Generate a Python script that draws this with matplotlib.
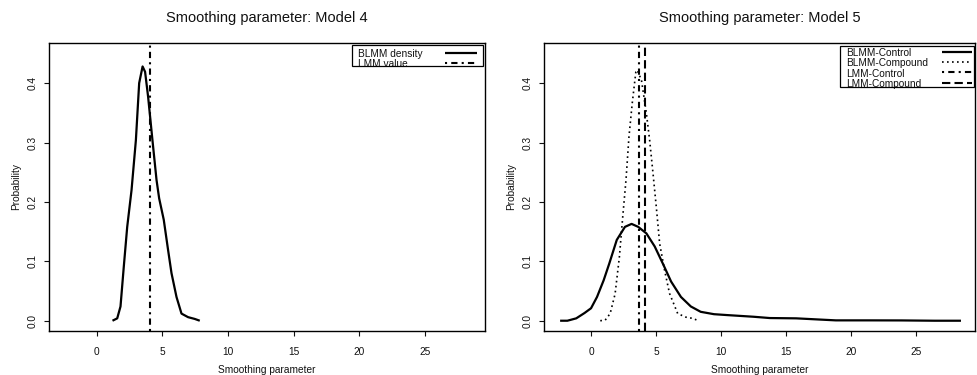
import matplotlib
matplotlib.use("Agg")
import matplotlib.pyplot as plt
from matplotlib.patches import Rectangle

plt.rcParams['font.family'] = ['Liberation Sans', 'DejaVu Sans']

# ---- data ----
m4_x = [1.21, 1.57, 1.82, 2.07, 2.33, 2.66, 2.99, 3.24, 3.50, 3.69, 3.92, 4.25,
        4.56, 4.76, 5.11, 5.44, 5.70, 6.08, 6.46, 6.96, 7.47, 7.85]
m4_y = [0.0, 0.004, 0.024, 0.091, 0.158, 0.220, 0.304, 0.400, 0.428, 0.419, 0.377, 0.304,
        0.237, 0.206, 0.170, 0.119, 0.080, 0.040, 0.012, 0.006, 0.003, 0.0]
m4_lmm = 4.10

ctrl_x = [-2.38, -1.82, -1.14, -0.50, 0.0, 0.46, 0.97, 1.40, 1.98, 2.61, 3.12, 3.63,
          4.26, 4.90, 5.53, 6.16, 6.92, 7.68, 8.44, 9.46, 10.47, 12.50, 13.76, 15.79,
          17.57, 18.84, 21.37, 23.90, 26.44, 28.47]
ctrl_y = [0.0, 0.0, 0.004, 0.013, 0.021, 0.040, 0.068, 0.096, 0.136, 0.158, 0.163, 0.158,
          0.147, 0.125, 0.096, 0.066, 0.040, 0.024, 0.015, 0.011, 0.0095, 0.0067, 0.0045, 0.004,
          0.002, 0.0006, 0.0006, 0.0005, 0.0, 0.0]
comp_x = [0.71, 1.09, 1.47, 1.85, 2.18, 2.44, 2.69, 2.92, 3.17, 3.45, 3.55, 3.88, 4.26,
          4.51, 4.77, 5.02, 5.28, 5.66, 6.04, 6.67, 7.30, 7.81, 8.27]
comp_y = [0.0, 0.001, 0.012, 0.045, 0.107, 0.175, 0.237, 0.310, 0.366, 0.419, 0.422, 0.405,
          0.349, 0.304, 0.248, 0.192, 0.130, 0.085, 0.046, 0.012, 0.006, 0.004, 0.0]
lmm_ctrl = 3.70
lmm_comp = 4.16

titles = ["Smoothing parameter: Model 4", "Smoothing parameter: Model 5"]
xticks = [0, 5, 10, 15, 20, 25]
yticks = [0.0, 0.1, 0.2, 0.3, 0.4]
ytick_labels = ["0.0", "0.1", "0.2", "0.3", "0.4"]
legend4 = ["BLMM density", "LMM value"]
legend5 = ["BLMM-Control", "BLMM-Compound", "LMM-Control", "LMM-Compound"]

SOLID = dict(color='black', lw=1.6, ls='-', solid_joinstyle='round', solid_capstyle='butt')
DOTTED = dict(color='black', lw=1.2, ls=(0, (1, 2)))
DOTDASH = dict(color='black', lw=1.5, ls=(0, (1, 2, 3, 2)))
DASHED = dict(color='black', lw=1.5, ls=(0, (4, 2)))

W, H = 977, 375
fig = plt.figure(figsize=(W / 100, H / 100), dpi=100)
ax1 = fig.add_axes([49 / W, (H - 331) / H, (485 - 49) / W, (331 - 43) / H])
ax2 = fig.add_axes([544 / W, (H - 331) / H, (975 - 544) / W, (331 - 43) / H])

ax1.plot(m4_x, m4_y, **SOLID)
ax1.axvline(m4_lmm, **DOTDASH)

ax2.plot(ctrl_x, ctrl_y, **SOLID)
ax2.plot(comp_x, comp_y, **DOTTED)
ax2.axvline(lmm_ctrl, **DOTDASH)
ax2.axvline(lmm_comp, **DASHED)


def draw_legend(ax, labels, styles, box, text_x, rows, line_x):
    x0, y0, x1, y1 = box
    ax.add_patch(Rectangle((x0, y0), x1 - x0, y1 - y0, transform=ax.transAxes,
                           facecolor='white', edgecolor='none', zorder=4))
    for lab, st, y in zip(labels, styles, rows):
        ax.text(text_x, y, lab, transform=ax.transAxes, fontsize=7.3, va='center',
                ha='left', color='#111111', zorder=5)
        ax.plot(line_x, [y + 0.004, y + 0.004], transform=ax.transAxes, zorder=5, **st)
    ax.add_patch(Rectangle((x0, y0), x1 - x0, y1 - y0, transform=ax.transAxes,
                           facecolor='none', edgecolor='black', lw=0.9, zorder=6))


draw_legend(ax1, legend4, [SOLID, DOTDASH], (0.694, 0.920, 0.996, 0.992), 0.709,
            [0.962, 0.928], [0.908, 0.981])
draw_legend(ax2, legend5, [SOLID, DOTTED, DOTDASH, DASHED], (0.687, 0.846, 0.998, 0.991),
            0.702, [0.964, 0.930, 0.894, 0.858], [0.923, 0.992])

for ax, t in zip([ax1, ax2], titles):
    ax.set_xlim(-3.62, 29.55)
    ax.set_ylim(-0.0173, 0.4675)
    ax.set_xticks(xticks)
    ax.set_yticks(yticks)
    ax.set_yticklabels(ytick_labels, rotation=90, va='center')
    ax.tick_params(direction='out', length=3.5, width=0.8, labelsize=7.3, colors='#111111')
    ax.tick_params(axis='x', pad=8)
    ax.tick_params(axis='y', pad=4.5)
    for s in ax.spines.values():
        s.set_linewidth(1.0)
        s.set_color('black')
    ax.set_title(t, fontsize=10.5, pad=15, color='#111111')
    ax.set_xlabel('Smoothing parameter', fontsize=7.3, labelpad=6, color='#111111')
    ax.set_ylabel('Probability', fontsize=7.3, labelpad=5, color='#111111')

fig.savefig('out.png', dpi=100)
